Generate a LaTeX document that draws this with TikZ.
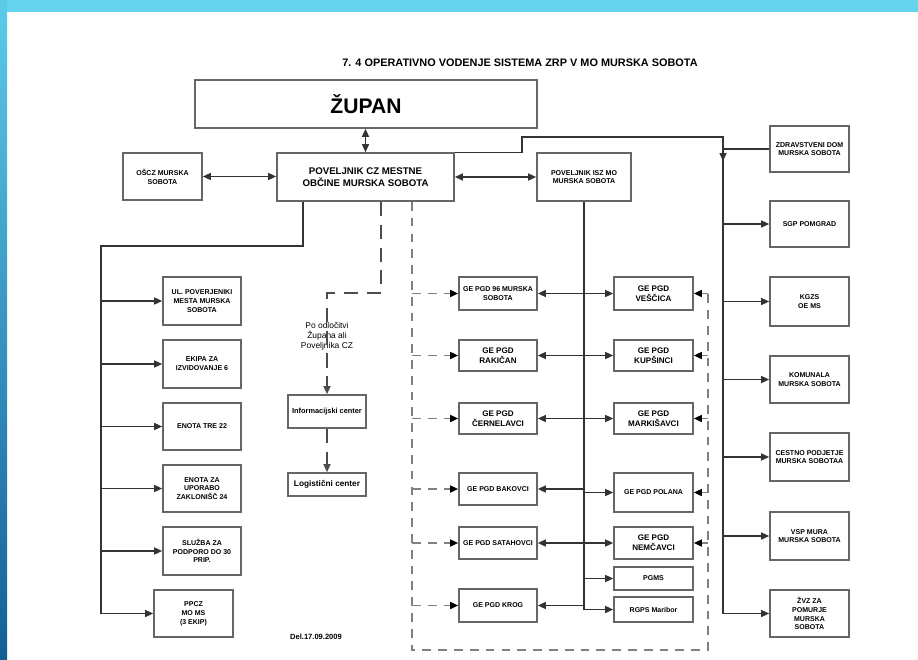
\documentclass[tikz,border=0pt]{standalone}
\usepackage{fontspec}
\setmainfont{Liberation Sans}
\usetikzlibrary{arrows.meta}
\definecolor{barcyan}{HTML}{66D3EF}
\definecolor{bartop}{HTML}{5CCBE8}
\definecolor{barbot}{HTML}{145E98}
\tikzset{
  box/.style={draw=black!60,line width=1pt,fill=white,align=center,inner sep=1pt,
    font=\fontsize{4}{5}\selectfont\bfseries},
  ge/.style={box,font=\fontsize{4.6}{5.6}\selectfont\bfseries},
  wh/.style 2 args={minimum width=#1*0.02cm,minimum height=#2*0.02cm},
  ln/.style={black!80,line width=0.7pt},
  dsh/.style={gray,line width=0.8pt,dash pattern=on 5pt off 4pt},
  darr/.style={dsh,-{Triangle[length=4.5pt,width=4pt,color=black]}},
  ldsh/.style={black!70,line width=0.7pt,dash pattern=on 8pt off 5pt},
}
\begin{document}
\begin{tikzpicture}[x=0.02cm,y=-0.02cm,>={Triangle[length=4.5pt,width=4pt]}]
\useasboundingbox (0,0) rectangle (918,659);
\fill[white] (0,0) rectangle (918,659);
% frame
\fill[barcyan] (0,0) rectangle (918,12);
\fill[top color=bartop,bottom color=barbot] (0,0) rectangle (7,659);
\node (title) at (520,63) {\fontsize{6.2}{7}\selectfont\bfseries 7. 4 OPERATIVNO VODENJE SISTEMA ZRP V MO MURSKA SOBOTA};

% top
\node[box,wh={342}{48},font=\fontsize{12}{14}\selectfont\bfseries] (zupan) at (366,104) {ŽUPAN};
\node[box,wh={177}{48},font=\fontsize{5.5}{6.6}\selectfont\bfseries] (cz) at (365.5,177) {POVELJNIK CZ MESTNE\\OBČINE MURSKA SOBOTA};
\node[box,wh={79}{47}] (oscz) at (162.5,176.5) {OŠCZ MURSKA\\SOBOTA};
\node[box,wh={94}{48}] (isz) at (584,177) {POVELJNIK ISZ MO\\MURSKA SOBOTA};

% left column
\node[box,wh={78}{48}] (ul) at (202,301) {UL. POVERJENIKI\\MESTA MURSKA\\SOBOTA};
\node[box,wh={78}{48}] (ekipa) at (202,364) {EKIPA ZA\\IZVIDOVANJE 6};
\node[box,wh={78}{47}] (tre) at (202,426.5) {ENOTA TRE 22};
\node[box,wh={78}{47}] (upor) at (202,488.5) {ENOTA ZA\\UPORABO\\ZAKLONIŠČ 24};
\node[box,wh={78}{48}] (sluzba) at (202,551) {SLUŽBA ZA\\PODPORO DO 30\\PRIP.};
\node[box,wh={79}{47}] (ppcz) at (193.5,613.5) {PPCZ\\MO MS\\(3 EKIP)};

% middle
\node[font=\fontsize{4.8}{5.6}\selectfont,align=center] (odl) at (327,336) {Po odločitvi\\Župana ali\\Poveljnika CZ};
\node[box,wh={78}{33},font=\fontsize{4.2}{5}\selectfont\bfseries] (info) at (327,411.5) {Informacijski center};
\node[box,wh={78}{23},font=\fontsize{4.7}{5.5}\selectfont\bfseries] (log) at (327,484.5) {Logistični center};
\node[font=\fontsize{4.3}{5}\selectfont\bfseries] (datum) at (316,637) {Del.17.09.2009};

% GE left
\node[box,wh={78}{33}] (g96) at (498,293.5) {GE PGD 96 MURSKA\\SOBOTA};
\node[ge,wh={78}{31}] (rak) at (498,355.5) {GE PGD\\RAKIČAN};
\node[ge,wh={78}{31}] (cer) at (498,418.5) {GE PGD\\ČERNELAVCI};
\node[box,wh={78}{32}] (bak) at (498,489) {GE PGD BAKOVCI};
\node[box,wh={78}{32}] (sat) at (498,543) {GE PGD SATAHOVCI};
\node[box,wh={78}{33}] (krog) at (498,605.5) {GE PGD KROG};

% GE right
\node[ge,wh={79}{33}] (ves) at (653.5,293.5) {GE PGD\\VEŠČICA};
\node[ge,wh={79}{31}] (kup) at (653.5,355.5) {GE PGD\\KUPŠINCI};
\node[ge,wh={79}{31}] (mar) at (653.5,418.5) {GE PGD\\MARKIŠAVCI};
\node[box,wh={79}{39}] (pol) at (653.5,492.5) {GE PGD POLANA};
\node[ge,wh={79}{32}] (nem) at (653.5,543) {GE PGD\\NEMČAVCI};
\node[box,wh={79}{23}] (pgms) at (653.5,578.5) {PGMS};
\node[box,wh={79}{25}] (rgps) at (653.5,609.5) {RGPS Maribor};

% right column
\node[box,wh={79}{46}] (zd) at (809.5,149) {ZDRAVSTVENI DOM\\MURSKA SOBOTA};
\node[box,wh={79}{46}] (sgp) at (809.5,224) {SGP POMGRAD};
\node[box,wh={79}{49}] (kgzs) at (809.5,301.5) {KGZS\\OE MS};
\node[box,wh={79}{47}] (kom) at (809.5,379.5) {KOMUNALA\\MURSKA SOBOTA};
\node[box,wh={79}{48}] (cestno) at (809.5,457) {CESTNO PODJETJE\\MURSKA SOBOTAA};
\node[box,wh={79}{48}] (vsp) at (809.5,536) {VSP MURA\\MURSKA SOBOTA};
\node[box,wh={79}{47}] (zvz) at (809.5,613.5) {ŽVZ ZA\\POMURJE\\MURSKA\\SOBOTA};

% connectors top
\draw[ln,<->] (cz.north |- zupan.south) -- (cz.north);
\draw[ln,<->] (oscz) -- (oscz -| cz.west);
\draw[ln,<->] (cz.east |- isz) -- (isz);

% left bus
\coordinate (lb) at (101,246);
\draw[ln] (303,0 |- cz.south) |- (lb) -- (lb |- ppcz.west);
\foreach \n in {ul,ekipa,tre,upor,sluzba,ppcz}
  \draw[ln,->] (lb |- \n.west) -- (\n.west);

% right bus
\coordinate (rb) at (723,137);
\draw[ln] (cz.north east) -- ++(67,0) |- (rb) -- (rb |- zvz.west);
\draw[ln,->] (rb) -- ++(0,24);
\draw[ln] (rb |- zd.west) -- (zd.west);
\foreach \n in {sgp,kgzs,kom,cestno,vsp,zvz}
  \draw[ln,->] (rb |- \n.west) -- (\n.west);

% middle bus
\draw[ln] (isz.south) -- (isz.south |- rgps.west);
\draw[ln,<->] (g96) -- (ves);
\draw[ln,<->] (rak) -- (kup);
\draw[ln,<->] (cer) -- (mar);
\draw[ln,<->] (sat) -- (nem);
\draw[ln,->] (isz.south |- bak.east) -- (bak.east);
\draw[ln,->] (isz.south |- pol.west) -- (pol.west);
\draw[ln,->] (isz.south |- krog.east) -- (krog.east);
\draw[ln,->] (isz.south |- pgms.west) -- (pgms.west);
\draw[ln,->] (isz.south |- rgps.west) -- (rgps.west);

% dashed frame round the GE
\coordinate (dl) at (412,650);
\coordinate (dr) at (708,293);
\draw[dsh] (dl |- cz.south) -- (dl) -| (dr);
\foreach \n in {g96,rak,cer,bak,sat,krog}
  \draw[darr] (dl |- \n.west) -- (\n.west);
\foreach \n in {ves,kup,mar,pol,nem}
  \draw[darr] (dr |- \n.east) -- (\n.east);

% decision path
\draw[ldsh,->] (381,0 |- cz.south) |- (info.north |- 0,293) -- (info.north);
\draw[ldsh,->] (info) -- (log);
\end{tikzpicture}
\end{document}
